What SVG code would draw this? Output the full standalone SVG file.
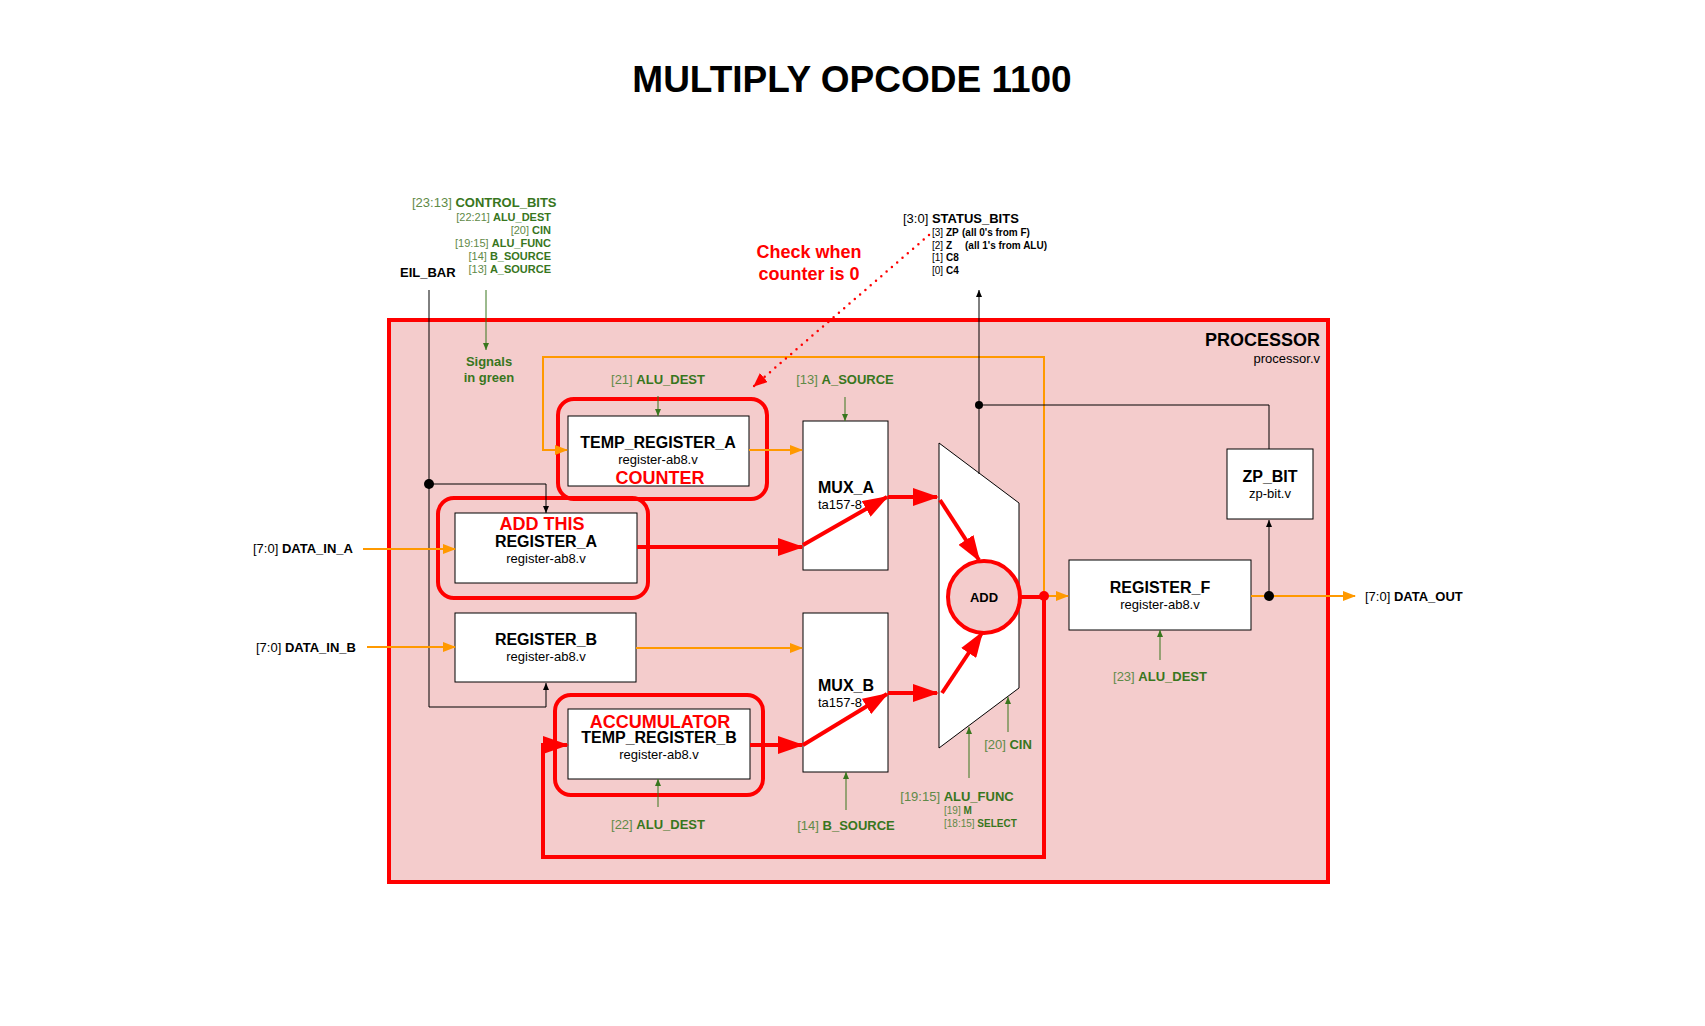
<svg xmlns="http://www.w3.org/2000/svg" width="1705" height="1026" viewBox="0 0 1705 1026">
<style>
text{font-family:"Liberation Sans",Arial,sans-serif;fill:#000}
.b{font-weight:bold}
.t{font-size:37px;font-weight:bold}
.n16{font-size:16px;font-weight:bold}
.n13{font-size:13px}
.g{fill:#38761d}
.gl{fill:#5f8a48}
.red{fill:#ff0000;font-weight:bold;font-size:18px}
.box{fill:#fff;stroke:#000;stroke-width:1}
.hl{fill:none;stroke:#ff0000;stroke-width:4}
.or{fill:none;stroke:#ff9900;stroke-width:2}
.bk{fill:none;stroke:#000;stroke-width:1}
.gr{fill:none;stroke:#38761d;stroke-width:1}
.rd{fill:none;stroke:#ff0000;stroke-width:4}
</style>
<defs>
<marker id="aO" markerUnits="userSpaceOnUse" markerWidth="13" markerHeight="10" refX="12" refY="5" orient="auto"><path d="M0,0 L13,5 L0,10 z" fill="#ff9900"/></marker>
<marker id="aK" markerUnits="userSpaceOnUse" markerWidth="7" markerHeight="6" refX="7" refY="3" orient="auto"><path d="M0,0 L7,3 L0,6 z" fill="#000"/></marker>
<marker id="aG" markerUnits="userSpaceOnUse" markerWidth="7" markerHeight="6" refX="7" refY="3" orient="auto"><path d="M0,0 L7,3 L0,6 z" fill="#38761d"/></marker>
<marker id="aR" markerUnits="userSpaceOnUse" markerWidth="26" markerHeight="18" refX="24" refY="9" orient="auto"><path d="M0,0 L26,9 L0,18 z" fill="#ff0000"/></marker>
<marker id="aRs" markerUnits="userSpaceOnUse" markerWidth="14" markerHeight="12" refX="13" refY="6" orient="auto"><path d="M0,0 L14,6 L0,12 z" fill="#ff0000"/></marker>
</defs>
<rect width="1705" height="1026" fill="#fff"/>
<text class="t" x="852" y="92" text-anchor="middle">MULTIPLY OPCODE 1100</text>

<g id="processor">
<rect x="389" y="320" width="939" height="562" fill="#f4cccc" stroke="#ff0000" stroke-width="4"/>
<text class="b" x="1320" y="346" text-anchor="end" font-size="18">PROCESSOR</text>
<text class="n13" x="1320" y="363" text-anchor="end">processor.v</text>
</g>

<g id="control-bits">
<text x="412" y="207" font-size="13"><tspan class="gl">[23:13] </tspan><tspan class="g b">CONTROL_BITS</tspan></text>
<g font-size="11" text-anchor="end">
<text x="551" y="221"><tspan class="gl">[22:21] </tspan><tspan class="g b">ALU_DEST</tspan></text>
<text x="551" y="234"><tspan class="gl">[20] </tspan><tspan class="g b">CIN</tspan></text>
<text x="551" y="247"><tspan class="gl">[19:15] </tspan><tspan class="g b">ALU_FUNC</tspan></text>
<text x="551" y="260"><tspan class="gl">[14] </tspan><tspan class="g b">B_SOURCE</tspan></text>
<text x="551" y="273"><tspan class="gl">[13] </tspan><tspan class="g b">A_SOURCE</tspan></text>
</g>
<text class="g b" x="489" y="366" font-size="13" text-anchor="middle">Signals</text>
<text class="g b" x="489" y="382" font-size="13" text-anchor="middle">in green</text>
</g>

<g id="eil-bar">
<text class="b" x="400" y="277" font-size="13">EIL_BAR</text>
</g>

<g id="status-bits">
<text x="903" y="223" font-size="13">[3:0] <tspan class="b">STATUS_BITS</tspan></text>
<g font-size="10">
<text x="932" y="236">[3] <tspan class="b">ZP</tspan><tspan class="b" x="962">(all 0's from F)</tspan></text>
<text x="932" y="249">[2] <tspan class="b">Z</tspan><tspan class="b" x="965">(all 1's from ALU)</tspan></text>
<text x="932" y="261">[1] <tspan class="b">C8</tspan></text>
<text x="932" y="274">[0] <tspan class="b">C4</tspan></text>
</g>
</g>

<g id="note">
<text class="red" x="809" y="258" text-anchor="middle">Check when</text>
<text class="red" x="809" y="280" text-anchor="middle">counter is 0</text>
</g>

<g id="data-in-a"><text x="253" y="553" font-size="13">[7:0] <tspan class="b">DATA_IN_A</tspan></text></g>
<g id="data-in-b"><text x="256" y="652" font-size="13">[7:0] <tspan class="b">DATA_IN_B</tspan></text></g>
<g id="data-out"><text x="1365" y="601" font-size="13">[7:0] <tspan class="b">DATA_OUT</tspan></text></g>

<g id="temp-register-a">
<rect class="box" x="568" y="416" width="181" height="70"/>
<text class="n16" x="658" y="448" text-anchor="middle">TEMP_REGISTER_A</text>
<text class="n13" x="658" y="464" text-anchor="middle">register-ab8.v</text>
<text class="red" x="660" y="484" text-anchor="middle">COUNTER</text>
<rect class="hl" x="558" y="399" width="209" height="100" rx="16"/>
<text x="658" y="384" font-size="13" text-anchor="middle"><tspan class="gl">[21] </tspan><tspan class="g b">ALU_DEST</tspan></text>
</g>

<g id="register-a">
<rect class="box" x="455" y="513" width="182" height="70"/>
<text class="red" x="542" y="530" text-anchor="middle">ADD THIS</text>
<text class="n16" x="546" y="547" text-anchor="middle">REGISTER_A</text>
<text class="n13" x="546" y="563" text-anchor="middle">register-ab8.v</text>
<rect class="hl" x="438" y="498" width="210" height="100" rx="16"/>
</g>

<g id="register-b">
<rect class="box" x="455" y="613" width="181" height="69"/>
<text class="n16" x="546" y="645" text-anchor="middle">REGISTER_B</text>
<text class="n13" x="546" y="661" text-anchor="middle">register-ab8.v</text>
</g>

<g id="temp-register-b">
<rect class="box" x="568" y="709" width="182" height="70"/>
<text class="red" x="660" y="728" text-anchor="middle">ACCUMULATOR</text>
<text class="n16" x="659" y="743" text-anchor="middle">TEMP_REGISTER_B</text>
<text class="n13" x="659" y="759" text-anchor="middle">register-ab8.v</text>
<rect class="hl" x="555" y="695" width="208" height="100" rx="16"/>
<text x="658" y="829" font-size="13" text-anchor="middle"><tspan class="gl">[22] </tspan><tspan class="g b">ALU_DEST</tspan></text>
</g>

<g id="mux-a">
<rect class="box" x="803" y="421" width="85" height="149"/>
<text class="n16" x="818" y="493">MUX_A</text>
<text class="n13" x="818" y="509">ta157-8</text>
<text x="845" y="384" font-size="13" text-anchor="middle"><tspan class="gl">[13] </tspan><tspan class="g b">A_SOURCE</tspan></text>
</g>

<g id="mux-b">
<rect class="box" x="803" y="613" width="85" height="159"/>
<text class="n16" x="818" y="691">MUX_B</text>
<text class="n13" x="818" y="707">ta157-8</text>
<text x="846" y="830" font-size="13" text-anchor="middle"><tspan class="gl">[14] </tspan><tspan class="g b">B_SOURCE</tspan></text>
</g>

<g id="alu">
<polygon points="939,443 1019,503 1019,688 939,748" fill="#fff" stroke="#000" stroke-width="1"/>
<circle cx="984" cy="597" r="36" fill="#f4cccc" stroke="#ff0000" stroke-width="4"/>
<text class="b" x="984" y="602" font-size="13" text-anchor="middle">ADD</text>
<text x="1008" y="749" font-size="13" text-anchor="middle"><tspan class="gl">[20] </tspan><tspan class="g b">CIN</tspan></text>
<text x="957" y="801" font-size="13" text-anchor="middle"><tspan class="gl">[19:15] </tspan><tspan class="g b">ALU_FUNC</tspan></text>
<text x="944" y="814" font-size="10"><tspan class="gl">[19] </tspan><tspan class="g b">M</tspan></text>
<text x="944" y="827" font-size="10"><tspan class="gl">[18:15] </tspan><tspan class="g b">SELECT</tspan></text>
</g>

<g id="register-f">
<rect class="box" x="1069" y="560" width="182" height="70"/>
<text class="n16" x="1160" y="593" text-anchor="middle">REGISTER_F</text>
<text class="n13" x="1160" y="609" text-anchor="middle">register-ab8.v</text>
<text x="1160" y="681" font-size="13" text-anchor="middle"><tspan class="gl">[23] </tspan><tspan class="g b">ALU_DEST</tspan></text>
</g>

<g id="zp-bit">
<rect class="box" x="1227" y="449" width="86" height="70"/>
<text class="n16" x="1270" y="482" text-anchor="middle">ZP_BIT</text>
<text class="n13" x="1270" y="498" text-anchor="middle">zp-bit.v</text>
</g>

<g id="connectors">
<!-- EIL_BAR -->
<path class="bk" d="M429,290 V707 H546 V683" marker-end="url(#aK)"/>
<path class="bk" d="M429,484 H546 V513" marker-end="url(#aK)"/>
<circle cx="429" cy="484" r="5" fill="#000"/>
<!-- control bits to signals -->
<path class="gr" d="M486,290 V350" marker-end="url(#aG)"/>
<!-- green control arrows -->
<path class="gr" d="M658,396 V416" marker-end="url(#aG)"/>
<path class="gr" d="M845,397 V421" marker-end="url(#aG)"/>
<path class="gr" d="M658,807 V779" marker-end="url(#aG)"/>
<path class="gr" d="M846,810 V772" marker-end="url(#aG)"/>
<path class="gr" d="M969,778 V727" marker-end="url(#aG)"/>
<path class="gr" d="M1008,732 V697" marker-end="url(#aG)"/>
<path class="gr" d="M1160,660 V630" marker-end="url(#aG)"/>
<!-- orange data paths -->
<path class="or" d="M363,549 H455" marker-end="url(#aO)"/>
<path class="or" d="M367,647 H455" marker-end="url(#aO)"/>
<path class="or" d="M636,648 H802" marker-end="url(#aO)"/>
<path class="or" d="M749,450 H802" marker-end="url(#aO)"/>
<path class="or" d="M1044,596 V357 H543 V450 H567" marker-end="url(#aO)"/>
<path class="or" d="M1044,596 H1068" marker-end="url(#aO)"/>
<path class="or" d="M1251,596 H1355" marker-end="url(#aO)"/>
<!-- status / zp -->
<path class="bk" d="M979,474 V290" marker-end="url(#aK)"/>
<path class="bk" d="M979,405 H1269 V449"/>
<circle cx="979" cy="405" r="4" fill="#000"/>
<path class="bk" d="M1269,596 V520" marker-end="url(#aK)"/>
<circle cx="1269" cy="596" r="5" fill="#000"/>
<!-- red highlighted path -->
<path class="rd" d="M637,547 H802" marker-end="url(#aR)"/>
<path class="rd" d="M803,545 L887,497" marker-end="url(#aR)"/>
<path class="rd" d="M888,497 H937" marker-end="url(#aR)"/>
<path class="rd" d="M940,500 L979,560" marker-end="url(#aR)"/>
<path class="rd" d="M750,745 H802" marker-end="url(#aR)"/>
<path class="rd" d="M803,745 L887,694" marker-end="url(#aR)"/>
<path class="rd" d="M888,693 H937" marker-end="url(#aR)"/>
<path class="rd" d="M942,693 L982,633" marker-end="url(#aR)"/>
<path class="rd" d="M1020,597 H1044 V857 H543 V745 H567" marker-end="url(#aR)"/>
<circle cx="1044" cy="596" r="5" fill="#ff0000"/>
<!-- dotted note pointer -->
<path d="M929,235 L754,386" fill="none" stroke="#ff0000" stroke-width="2.5" stroke-linecap="round" stroke-dasharray="0 7" marker-end="url(#aRs)"/>
</g>
</svg>
